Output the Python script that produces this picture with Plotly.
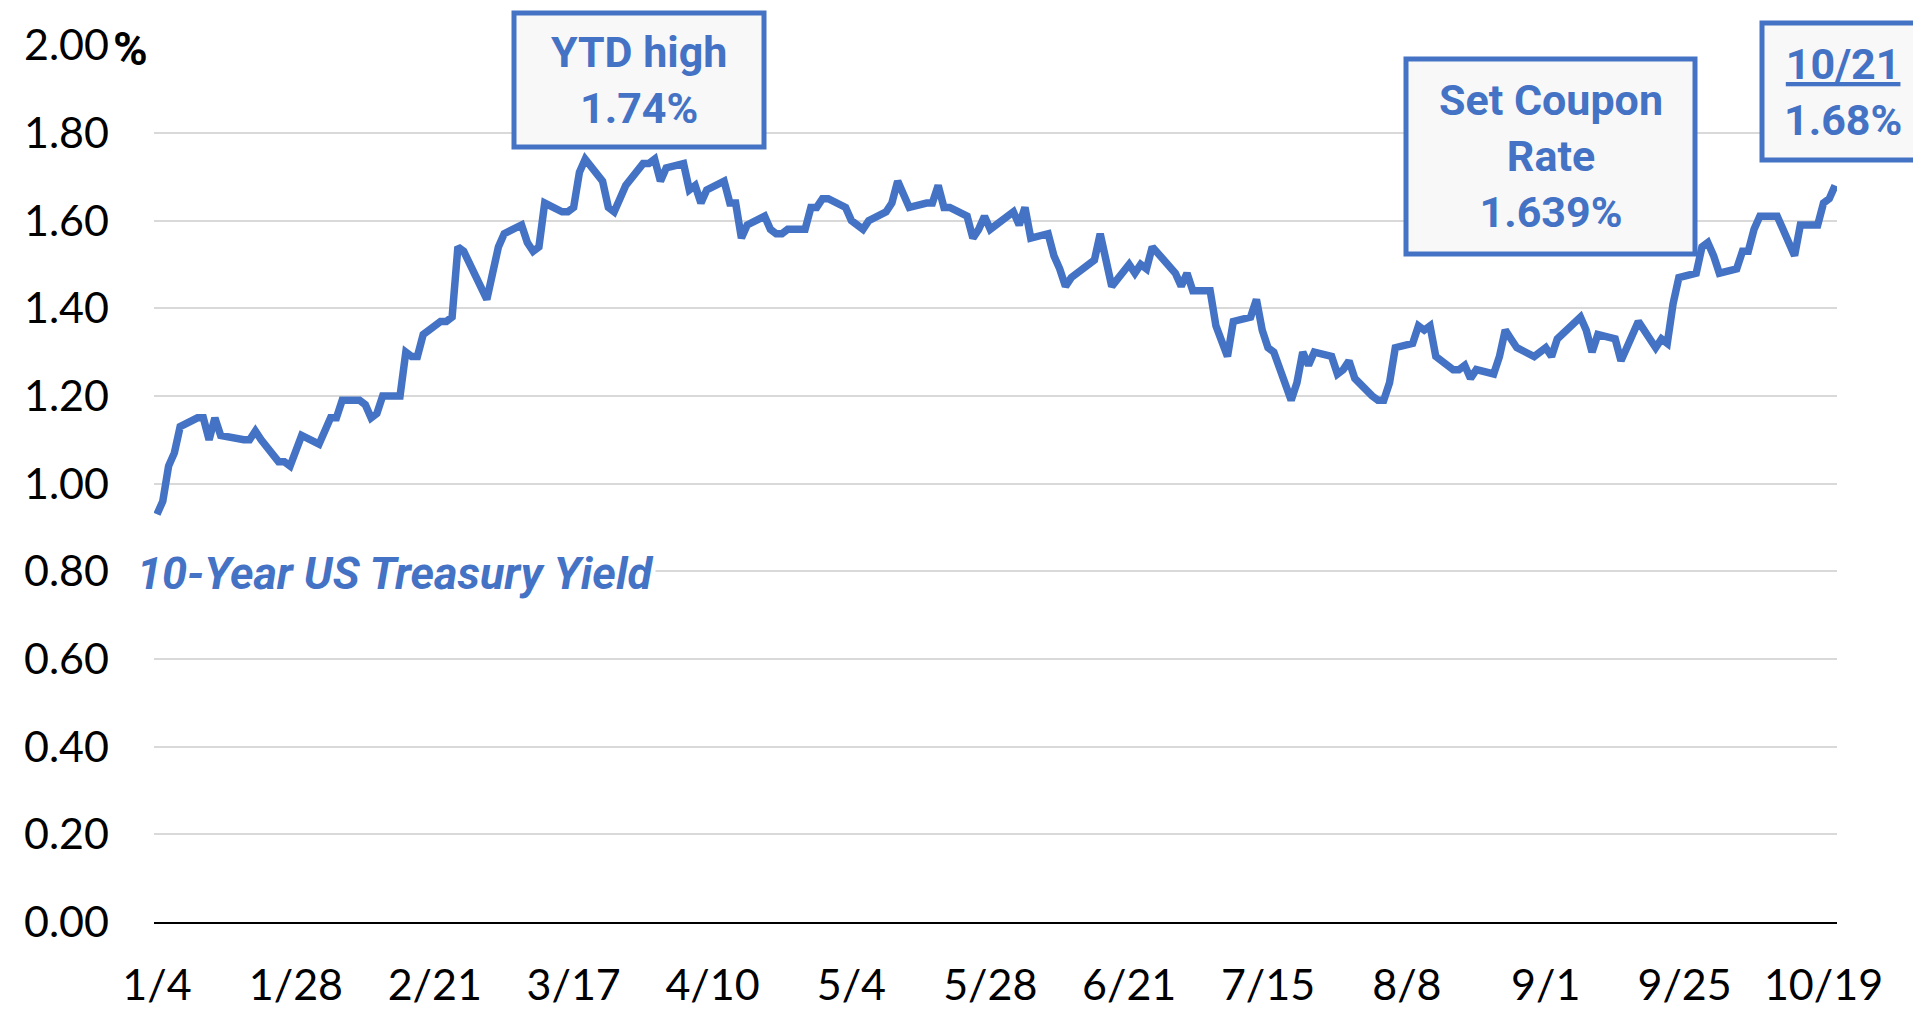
import datetime as dt
import plotly.graph_objects as go

# ---------------- data (2021, 10-Year US Treasury yield, %) ----------------
JAN_DAYS = [4, 5, 6, 7, 8, 11, 12, 13, 14, 15, 19, 20, 21, 22, 25, 26, 27, 28, 29]
JAN_YLD = [0.93, 0.96, 1.04, 1.07, 1.13, 1.15, 1.15, 1.10, 1.15, 1.11, 1.10, 1.10, 1.12, 1.10, 1.05, 1.05, 1.04, 1.07, 1.11]

FEB_DAYS = [1, 2, 3, 4, 5, 8, 9, 10, 11, 12, 15, 16, 17, 18, 19, 22, 23, 24, 25, 26]
FEB_YLD = [1.09, 1.12, 1.15, 1.15, 1.19, 1.19, 1.18, 1.15, 1.16, 1.20, 1.20, 1.30, 1.29, 1.29, 1.34, 1.37, 1.37, 1.38, 1.54, 1.53]

MAR_DAYS = [1, 2, 3, 4, 5, 8, 9, 10, 11, 12, 15, 16, 17, 18, 19, 22, 23, 24, 25, 26, 29, 30, 31]
MAR_YLD = [1.45, 1.42, 1.48, 1.54, 1.57, 1.59, 1.55, 1.53, 1.54, 1.64, 1.62, 1.62, 1.63, 1.71, 1.74, 1.69, 1.63, 1.62, 1.65, 1.68, 1.73, 1.73, 1.74]

APR_DAYS = [1, 2, 5, 6, 7, 8, 9, 12, 13, 14, 15, 16, 19, 20, 21, 22, 23, 26, 27, 28, 29, 30]
APR_YLD = [1.69, 1.72, 1.73, 1.67, 1.68, 1.64, 1.67, 1.69, 1.64, 1.64, 1.56, 1.59, 1.61, 1.58, 1.57, 1.57, 1.58, 1.58, 1.63, 1.63, 1.65, 1.65]

MAY_DAYS = [3, 4, 5, 6, 7, 10, 11, 12, 13, 14, 17, 18, 19, 20, 21, 24, 25, 26, 27, 28]
MAY_YLD = [1.63, 1.60, 1.59, 1.58, 1.60, 1.62, 1.64, 1.69, 1.66, 1.63, 1.64, 1.64, 1.68, 1.63, 1.63, 1.61, 1.56, 1.58, 1.61, 1.58]

JUN_DAYS = [1, 2, 3, 4, 7, 8, 9, 10, 11, 14, 15, 16, 17, 18, 21, 22, 23, 24, 25, 28, 29, 30]
JUN_YLD = [1.62, 1.59, 1.63, 1.56, 1.57, 1.52, 1.49, 1.45, 1.47, 1.50, 1.51, 1.57, 1.51, 1.45, 1.50, 1.48, 1.50, 1.49, 1.54, 1.49, 1.48, 1.45]

JUL_DAYS = [1, 2, 5, 6, 7, 8, 9, 12, 13, 14, 15, 16, 19, 20, 21, 22, 23, 26, 27, 28, 29, 30]
JUL_YLD = [1.48, 1.44, 1.44, 1.36, 1.32, 1.29, 1.37, 1.38, 1.42, 1.35, 1.31, 1.30, 1.19, 1.23, 1.30, 1.27, 1.30, 1.29, 1.25, 1.26, 1.28, 1.24]

AUG_DAYS = [2, 3, 4, 5, 6, 9, 10, 11, 12, 13, 16, 17, 18, 19, 20, 23, 24, 25, 26, 27, 30, 31]
AUG_YLD = [1.20, 1.19, 1.19, 1.23, 1.31, 1.32, 1.36, 1.35, 1.36, 1.29, 1.26, 1.26, 1.27, 1.24, 1.26, 1.25, 1.29, 1.35, 1.33, 1.31, 1.29, 1.30]

SEP_DAYS = [1, 2, 3, 7, 8, 9, 10, 13, 14, 15, 16, 17, 20, 21, 22, 23, 24, 27, 28, 29, 30]
SEP_YLD = [1.31, 1.29, 1.33, 1.38, 1.35, 1.30, 1.34, 1.33, 1.28, 1.31, 1.34, 1.37, 1.31, 1.33, 1.32, 1.41, 1.47, 1.48, 1.54, 1.55, 1.52]

OCT_DAYS = [1, 4, 5, 6, 7, 8, 11, 12, 13, 14, 15, 18, 19, 20, 21]
OCT_YLD = [1.48, 1.49, 1.53, 1.53, 1.58, 1.61, 1.61, 1.58, 1.55, 1.52, 1.59, 1.59, 1.64, 1.65, 1.68]

X_TICK_DATES = ["2021-01-04", "2021-01-28", "2021-02-21", "2021-03-17", "2021-04-10", "2021-05-04",
                "2021-05-28", "2021-06-21", "2021-07-15", "2021-08-08", "2021-09-01", "2021-09-25", "2021-10-19"]
X_TICK_LABELS = ["1/4", "1/28", "2/21", "3/17", "4/10", "5/4", "5/28", "6/21", "7/15", "8/8", "9/1", "9/25", "10/19"]

Y_TICK_VALUES = [0.0, 0.2, 0.4, 0.6, 0.8, 1.0, 1.2, 1.4, 1.6, 1.8, 2.0]
Y_TICK_LABELS = ["0.00", "0.20", "0.40", "0.60", "0.80", "1.00", "1.20", "1.40", "1.60", "1.80", "2.00"]

SERIES_NAME = "10-Year US Treasury Yield"
YTD_HIGH_LINES = ["YTD high", "1.74%"]
COUPON_LINES = ["Set Coupon", "Rate", "1.639%"]
LATEST_LINES = ["<u>10/21</u>", "1.68%"]

# ---------------- assemble ----------------
months = [(1, JAN_DAYS, JAN_YLD), (2, FEB_DAYS, FEB_YLD), (3, MAR_DAYS, MAR_YLD), (4, APR_DAYS, APR_YLD),
          (5, MAY_DAYS, MAY_YLD), (6, JUN_DAYS, JUN_YLD), (7, JUL_DAYS, JUL_YLD), (8, AUG_DAYS, AUG_YLD),
          (9, SEP_DAYS, SEP_YLD), (10, OCT_DAYS, OCT_YLD)]
dates, ylds = [], []
for m, days, vals in months:
    for d, v in zip(days, vals):
        dates.append(dt.date(2021, m, d).isoformat())
        ylds.append(v)

BLUE = "#4472C4"
TICK_FONT = "Lato"
BOLD_FONT = "Roboto"

# page geometry (plot area in page pixels)
PL, PR, PT, PB = 154, 1837, 45, 922
OFF = 8  # default body margin of the html page
FIG_W, FIG_H = 1921 - 2 * OFF, 1017 - 2 * OFF


def px(X):
    return (X - PL) / (PR - PL)


def py(Y):
    return (PB - Y) / (PB - PT)


def bold_lines(lines):
    return "<br>".join("<b>" + s + "</b>" for s in lines)


fig = go.Figure()
fig.add_trace(go.Scatter(x=dates, y=ylds, mode="lines", name=SERIES_NAME,
                         line=dict(color=BLUE, width=7.5), hoverinfo="x+y"))

shapes = []
for (x0, x1, y0, y1) in [(514, 764, 13, 147), (1406, 1695, 59, 254), (1762, 1940, 23, 160)]:
    shapes.append(dict(type="rect", xref="paper", yref="paper", x0=px(x0), x1=px(x1), y0=py(y1), y1=py(y0),
                       line=dict(color=BLUE, width=5), fillcolor="#F8F8F8", layer="above"))

ann_font = dict(family=BOLD_FONT, size=43, color=BLUE)
annotations = [
    dict(xref="paper", yref="paper", x=px(639), y=py(80), text=bold_lines(YTD_HIGH_LINES),
         showarrow=False, xanchor="center", yanchor="middle", font=ann_font, align="center"),
    dict(xref="paper", yref="paper", x=px(1550.5), y=py(156.5), text=bold_lines(COUPON_LINES),
         showarrow=False, xanchor="center", yanchor="middle", font=ann_font, align="center"),
    dict(xref="paper", yref="paper", x=px(1842.5), y=py(91.5), text=bold_lines(LATEST_LINES),
         showarrow=False, xanchor="center", yanchor="middle", font=ann_font, align="center"),
    dict(xref="paper", yref="paper", x=px(134), y=py(573.5), text="<b><i>" + SERIES_NAME + "</i></b>",
         showarrow=False, xanchor="left", yanchor="middle", font=dict(family=BOLD_FONT, size=45, color=BLUE),
         bgcolor="white", borderpad=2),
    dict(xref="paper", yref="y", x=px(111), y=2.0, yshift=-3, text="<b>%</b>", showarrow=False,
         xanchor="left", yanchor="middle", font=dict(family=BOLD_FONT, size=47, color="black")),
]

fig.update_layout(
    template="none",
    width=FIG_W, height=FIG_H,
    margin=dict(l=PL - OFF, r=FIG_W - (PR - OFF), t=PT - OFF, b=FIG_H - (PB - OFF), pad=0, autoexpand=False),
    paper_bgcolor="white", plot_bgcolor="white",
    showlegend=False,
    font=dict(family=TICK_FONT, size=43, color="black"),
    shapes=shapes, annotations=annotations,
    xaxis=dict(type="date", range=["2021-01-03 11:30", "2021-10-21 08:00"], automargin=False,
               tickvals=X_TICK_DATES, ticktext=X_TICK_LABELS, showgrid=False,
               showline=True, linecolor="black", linewidth=2, ticks="", ticklabelstandoff=24,
               tickfont=dict(family=TICK_FONT, size=43, color="black"), zeroline=False),
    yaxis=dict(range=[0, 2.0005], tickvals=Y_TICK_VALUES, ticktext=Y_TICK_LABELS, automargin=False,
               showgrid=True, gridcolor="#D9D9D9", gridwidth=2, zeroline=False, showline=False,
               ticks="", ticklabelstandoff=44, tickfont=dict(family=TICK_FONT, size=43, color="black")),
)

fig.write_html("out.html")
